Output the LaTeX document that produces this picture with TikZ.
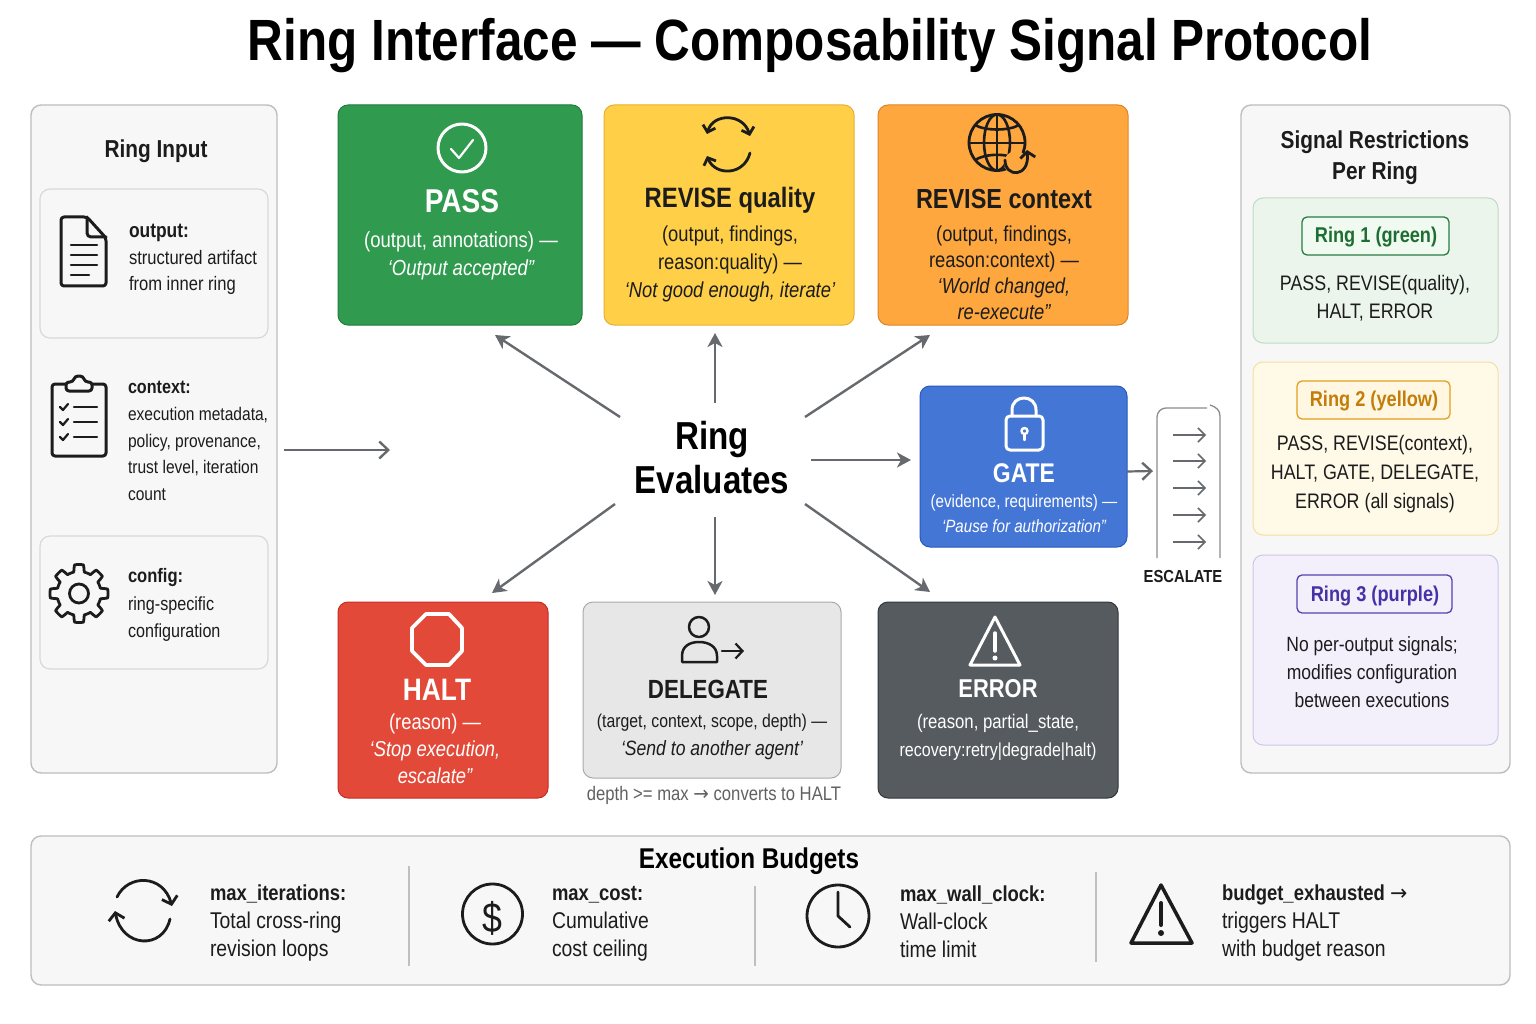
\documentclass[tikz,border=0pt]{standalone}
\usepackage{fontspec}
\setmainfont[FakeStretch=0.85]{Liberation Sans}
\newfontfamily\arrowfont[FakeStretch=0.95]{DejaVu Sans}
\usetikzlibrary{arrows.meta,calc}
\newcommand\sz[2]{\fontsize{#1}{#2}\selectfont}
\newcommand\textarrow{{\arrowfont →}}
\definecolor{ink}{HTML}{1C1C1C}
\definecolor{arrowc}{HTML}{666A6E}
\definecolor{panelf}{HTML}{F7F7F7}
\definecolor{paneld}{HTML}{BDBEBE}
\tikzset{
  x=1pt,y=-1pt,
  txt/.style={inner sep=0pt,outer sep=0pt,align=center,text=ink,yshift=-2pt},
  ltxt/.style={inner sep=0pt,outer sep=0pt,align=left,anchor=west,text=ink,yshift=-2pt},
  wtxt/.style={inner sep=0pt,outer sep=0pt,align=center,text=white,yshift=-2pt},
  bx/.style={rectangle,rounded corners=10pt,inner sep=0pt,outer sep=0pt,line width=1pt},
  panel/.style={bx,fill=panelf,draw=paneld,line width=1.4pt},
  sub/.style={bx,fill=panelf,draw=black!15,line width=1.2pt},
  arr/.style={draw=arrowc,line width=2.4pt,-{Straight Barb[length=9pt,width=17pt,line width=2.4pt]}},
  darr/.style={draw=arrowc,fill=arrowc,line width=2.4pt,-{Stealth[length=14pt,width=15pt,inset=4pt]}},
  sarr/.style={draw=arrowc,line width=1.6pt,-{Straight Barb[length=7pt,width=14pt,line width=1.6pt]}},
  icon/.style={draw=#1,line width=3pt,line cap=round,line join=round,fill=none},
  icon/.default=ink,
  ibarb/.style={-{Straight Barb[length=7pt,width=16pt,line width=2.8pt]}},
  sbarb/.style={{Straight Barb[length=6pt,width=13pt,line width=2.8pt]}-{Straight Barb[length=6pt,width=13pt,line width=2.8pt]}},
  sbarbe/.style={-{Straight Barb[length=6pt,width=13pt,line width=2.8pt]}},
  sep/.style={draw=black!25,line width=1.4pt}
}
\newcommand\bxnode[6]{\node[#6,minimum width={(#4-#2)*1pt},minimum height={(#5-#3)*1pt}] (#1) at ({(#2+#4)/2},{(#3+#5)/2}) {};}
\pgfmathdeclarefunction{rgear}{1}{\pgfmathparse{25.5+3.5*max(-1,min(1,3*cos(8*#1)))}}
\begin{document}
\begin{tikzpicture}
\useasboundingbox (0,0) rectangle (1536,1024);
\fill[white] (0,0) rectangle (1536,1024);
% title
\node[txt,text=black,font=\sz{58.2}{60}\bfseries] (title) at (810,44) {Ring Interface — Composability Signal Protocol};

% left panel
\bxnode{inp}{31}{105}{277}{773}{panel}
\node[txt,font=\sz{24.5}{30}\bfseries] (inpt) at (156,149) {Ring Input};
\bxnode{inA}{40}{189}{268}{338}{sub}
\bxnode{inC}{40}{536}{268}{669}{sub}
\node[ltxt,font=\sz{19.5}{26.5}] (inAt) at (129,257.5) {\sz{20.5}{26.5}\textbf{output:}\\\sz{19.5}{26.5}structured artifact\\from inner ring};
\node[ltxt,font=\sz{18.3}{26.7}] (inBt) at (128,439) {\sz{19}{26.7}\textbf{context:}\\\sz{18.3}{26.7}execution metadata,\\policy, provenance,\\trust level, iteration\\count};
\node[ltxt,font=\sz{19}{27.5}] (inCt) at (128,603) {\sz{19.5}{27.5}\textbf{config:}\\\sz{19}{27.5}ring-specific\\configuration};
% doc icon
\draw[icon,rounded corners=3pt] (61,217) -- (87,217) -- (106,238) -- (106,286) -- (61,286) -- cycle;
\draw[icon,rounded corners=4pt] (87,217) -- (87,237) -- (106,237);
\draw[icon,line width=2.6pt] (71,245)--(97,245) (71,255)--(97,255) (71,265)--(97,265) (71,275)--(89,275);
% clipboard icon
\draw[icon,rounded corners=3pt] (66,384) -- (52,384) -- (52,456) -- (106,456) -- (106,384) -- (92,384);
\draw[icon,rounded corners=3pt] (66,391) -- (66,382) -- (73,382) -- (75,376) -- (83,376) -- (85,382) -- (92,382) -- (92,391) -- cycle;
\foreach \yy in {407,422,437}{
  \draw[icon,line width=2.2pt] (60,\yy) -- (63,{\yy+3}) -- (68,{\yy-3});
  \draw[icon,line width=2.4pt] (74,\yy) -- (97,\yy);
}
% gear icon
\draw[icon,line width=2.8pt] plot[domain=0:360,samples=361] ({79+rgear(\x)*cos(\x)},{593.5+rgear(\x)*sin(\x)}) -- cycle;
\draw[icon,line width=2.8pt] (79,593.5) circle[radius=9.5];
% input arrow
\coordinate (inEnd) at (390,450);
\draw[arr] ([shift={(7,11)}]inp.east) -- (inEnd);

% top boxes
\bxnode{pass}{338}{105}{582}{325}{bx,fill={rgb,255:red,48;green,154;blue,79},draw={rgb,255:red,30;green,125;blue,60}}
\bxnode{revq}{604}{105}{854}{325}{bx,fill={rgb,255:red,255;green,207;blue,72},draw={rgb,255:red,228;green,178;blue,50}}
\bxnode{revc}{878}{105}{1128}{325}{bx,fill={rgb,255:red,253;green,167;blue,62},draw={rgb,255:red,222;green,132;blue,40}}
\bxnode{gate}{920}{386}{1127}{547}{bx,fill={rgb,255:red,68;green,118;blue,214},draw={rgb,255:red,40;green,90;blue,190}}
\bxnode{halt}{338}{602}{548}{798}{bx,fill={rgb,255:red,227;green,73;blue,56},draw={rgb,255:red,200;green,45;blue,35}}
\bxnode{dele}{583}{602}{841}{778}{bx,fill={rgb,255:red,231;green,231;blue,231},draw={rgb,255:red,170;green,170;blue,170}}
\bxnode{err}{878}{602}{1118}{798}{bx,fill={rgb,255:red,85;green,91;blue,95},draw={rgb,255:red,50;green,55;blue,58}}

% box texts
\node[wtxt,font=\sz{33}{36}\bfseries] (passh) at (462,199) {PASS};
\node[wtxt,font=\sz{21.8}{28}] (passb) at (461,254) {(output, annotations) —\\\itshape ‘Output accepted”};
\node[txt,font=\sz{28}{32}\bfseries] (revqh) at (730,198) {REVISE quality};
\node[txt,font=\sz{21.6}{28}] (revqb) at (730,262) {(output, findings,\\reason:quality) —\\\itshape ‘Not good enough, iterate’};
\node[txt,font=\sz{27.6}{32}\bfseries] (revch) at (1004,197) {REVISE context};
\node[txt,font=\sz{21.6}{26}] (revcb) at (1004,271) {(output, findings,\\reason:context) —\\\itshape ‘World changed,\\\itshape re-execute”};
\node[wtxt,font=\sz{27}{32}\bfseries] (gateh) at (1024,471) {GATE};
\node[wtxt,font=\sz{17.8}{25}] (gateb) at (1024,511.5) {(evidence, requirements) —\\\itshape ‘Pause for authorization”};
\node[wtxt,font=\sz{31}{34}\bfseries] (halth) at (437,688) {HALT};
\node[wtxt,font=\sz{21.6}{27}] (haltb) at (435,747) {(reason) —\\\itshape ‘Stop execution,\\\itshape escalate”};
\node[txt,font=\sz{26.3}{32}\bfseries] (deleh) at (708,687) {DELEGATE};
\node[txt,font=\sz{18.6}{28}] (deleb) at (712,735) {(target, context, scope, depth) —\\\sz{20.7}{28}\itshape ‘Send to another agent’};
\node[wtxt,font=\sz{25.8}{32}\bfseries] (errh) at (998,687) {ERROR};
\node[wtxt,font=\sz{19.7}{28}] (errb) at (998,735) {(reason, partial\_state,\\\sz{18.9}{28}recovery:retry|degrade|halt)};
\node[txt,text=black!62,font=\sz{19.6}{22}] (delec) at (714,793) {depth >= max \textarrow{} converts to HALT};

% centre
\node[inner sep=0pt,outer sep=0pt,align=center,font=\sz{39}{44}\bfseries,text=black,minimum width=196pt,minimum height=114pt] (eval) at (712,458) {Ring\\Evaluates};
\draw[darr] ([shift={(6,16)}]eval.north west) -- ([shift={(35,10)}]pass.south);
\draw[darr] ([shift={(3,2)}]eval.north) -- ([shift={(-14,8)}]revq.south);
\draw[darr] ([shift={(-5,16)}]eval.north east) -- ([shift={(-198,10)}]revc.south east);
\draw[darr] ([shift={(1,2)}]eval.east) -- ($(eval.east -| gate.west)+(-9,2)$);
\draw[darr] ([shift={(1,-11)}]eval.south west) -- ([shift={(-56,-9)}]halt.north east);
\draw[darr] ([shift={(3,2)}]eval.south) -- ([shift={(3,-7)}]dele.north);
\draw[darr] ([shift={(-5,-11)}]eval.south east) -- ([shift={(52,-10)}]err.north west);

% escalate
\node[inner sep=0pt,outer sep=0pt,minimum width=68pt,minimum height=150pt] (esc) at (1187,483) {};
\draw[arr,line width=2.2pt] ([shift={(0,5)}]gate.east) -- ([shift={(0,-12)}]esc.west);
\draw[draw=black!45,line width=1.3pt,rounded corners=9pt] ([xshift=4pt]esc.south west) -- (1157,408) -- (1207,408);
\draw[draw=black!45,line width=1.3pt] (1210,405) .. controls (1216,407) and (1220,410) .. (1220,416) -- (1220,558);
\foreach \i/\yy in {a/435,b/461,c/488,d/515,e/542}{
  \coordinate (e\i1) at (1173,\yy); \coordinate (e\i2) at (1206,\yy);
  \draw[sarr] (e\i1) -- (e\i2);
}
\node[txt,font=\sz{17.4}{22}\bfseries] (esct) at (1183,575) {ESCALATE};

% icons in coloured boxes
\draw[icon=white] (462,148) circle[radius=24];
\draw[icon=white,line width=2.2pt] (451,149) -- (459,158) -- (473,140);
\draw[icon,line width=2.8pt,sbarb] (707,134) .. controls (713,113) and (743,113) .. (750,136);
\draw[icon,line width=2.8pt,sbarbe] (750,153) .. controls (744,176) and (715,176) .. (707,156);
% globe
\draw[icon,line width=2.8pt] (997,142.5) circle[radius=28];
\draw[icon,line width=2.6pt] (997,115) -- (997,170);
\draw[icon,line width=2.6pt] (997,142.5) ellipse[x radius=13,y radius=28];
\draw[icon,line width=2.6pt] (969,143) -- (1025,143);
\draw[icon,line width=2.6pt] (975,125) .. controls (985,131) and (1009,131) .. (1019,125);
\draw[icon,line width=2.6pt] (975,160) .. controls (985,154) and (1000,154) .. (1008,156);
\fill[fill={rgb,255:red,253;green,167;blue,62}] (1016,163) circle[radius=12];
\draw[icon,line width=2.8pt,-{Straight Barb[length=6pt,width=15pt,line width=2.8pt]}] (1005,160) .. controls (1005,178) and (1030,178) .. (1027,150);
% lock
\draw[icon=white] (1012,416) -- (1012,410) .. controls (1012,394) and (1036,394) .. (1036,410) -- (1036,416);
\draw[icon=white,rounded corners=4pt] (1006,416) rectangle (1043,450);
\draw[icon=white,line width=2.4pt] (1024.5,431) circle[radius=3];
\draw[icon=white,line width=2.4pt] (1024.5,434) -- (1024.5,440);
% octagon
\draw[icon=white,line width=3.8pt] (426,614) -- (449,614) -- (462,628) -- (462,651) -- (449,665) -- (426,665) -- (412,651) -- (412,628) -- cycle;
% person
\draw[icon,line width=2.5pt] (699,627) circle[radius=10];
\draw[icon,line width=2.5pt] (682,662) -- (682,656) .. controls (682,646) and (690,642) .. (699,642) .. controls (708,642) and (717,646) .. (717,656) -- (717,662) -- cycle;
\draw[icon,line width=2.2pt,-{Straight Barb[length=7pt,width=15pt,line width=2.2pt]}] (722,651) -- (744,651);
% warning
\draw[icon=white,line width=3pt] (995,617) -- (970,665) -- (1020,665) -- cycle;
\draw[icon=white,line width=3.5pt] (995,633) -- (995,651);
\fill[white] (995,658) circle[radius=2.5];

% right panel
\bxnode{sig}{1241}{105}{1510}{773}{panel}
\node[txt,font=\sz{24.5}{31}\bfseries] (sigt) at (1375,155.5) {Signal Restrictions\\Per Ring};
\bxnode{r1}{1253}{198}{1498}{343}{bx,fill={rgb,255:red,236;green,245;blue,236},draw={rgb,255:red,190;green,220;blue,195}}
\bxnode{r2}{1253}{362}{1498}{535}{bx,fill={rgb,255:red,255;green,249;blue,232},draw={rgb,255:red,245;green,222;blue,160}}
\bxnode{r3}{1253}{555}{1498}{745}{bx,fill={rgb,255:red,243;green,240;blue,252},draw={rgb,255:red,205;green,198;blue,232}}
\bxnode{p1}{1302}{217}{1449}{255}{bx,rounded corners=5pt,fill={rgb,255:red,240;green,250;blue,240},draw={rgb,255:red,40;green,125;blue,70},line width=1.3pt}
\bxnode{p2}{1297}{381}{1450}{419}{bx,rounded corners=5pt,fill={rgb,255:red,255;green,247;blue,225},draw={rgb,255:red,225;green,160;blue,30},line width=1.3pt}
\bxnode{p3}{1297}{575}{1452}{613}{bx,rounded corners=5pt,fill={rgb,255:red,243;green,240;blue,252},draw={rgb,255:red,85;green,65;blue,175},line width=1.3pt}
\node[txt,text={rgb,255:red,30;green,110;blue,50},font=\sz{21.4}{26}\bfseries] (p1t) at (1376,235.5) {Ring 1 (green)};
\node[txt,text={rgb,255:red,195;green,125;blue,10},font=\sz{21.4}{26}\bfseries] (p2t) at (1374,399.5) {Ring 2 (yellow)};
\node[txt,text={rgb,255:red,70;green,50;blue,165},font=\sz{21.4}{26}\bfseries] (p3t) at (1375,594) {Ring 3 (purple)};
\node[txt,font=\sz{21}{28}] (r1t) at (1375,296) {PASS, REVISE(quality),\\HALT, ERROR};
\node[txt,font=\sz{21}{29}] (r2t) at (1375,472) {PASS, REVISE(context),\\HALT, GATE, DELEGATE,\\ERROR (all signals)};
\node[txt,font=\sz{20.6}{28}] (r3t) at (1372,670) {No per-output signals;\\modifies configuration\\between executions};

% budgets
\bxnode{bud}{31}{836}{1510}{985}{panel}
\node[txt,text=black,font=\sz{28.6}{30}\bfseries] (budt) at (749,859) {Execution Budgets};
\draw[sep] (409,866) -- (409,966);
\draw[sep] (755,886) -- (755,966);
\draw[sep] (1096,872) -- (1096,962);
\node[ltxt,font=\sz{22.8}{28}] (b1) at (210,921) {\sz{21.7}{28}\textbf{max\_iterations:}\\\sz{22.8}{28}Total cross-ring\\revision loops};
\node[ltxt,font=\sz{22.8}{28}] (b2) at (552,922) {\sz{21.7}{28}\textbf{max\_cost:}\\\sz{22.8}{28}Cumulative\\cost ceiling};
\node[ltxt,font=\sz{22.8}{28}] (b3) at (900,920) {\sz{21.7}{28}\textbf{max\_wall\_clock:}\\\sz{22.8}{28}Wall-clock\\time limit};
\node[ltxt,font=\sz{22.8}{28}] (b4) at (1222,921) {\sz{21.7}{28}\textbf{budget\_exhausted} \textarrow\\\sz{22.8}{28}triggers HALT\\with budget reason};
% budget icons
\draw[icon,line width=2.8pt,ibarb] (117,897) .. controls (128,874) and (163,874) .. (172,906);
\draw[icon,line width=2.8pt,ibarb] (170,919) .. controls (163,950) and (122,948) .. (115,911);
\draw[icon,line width=2.8pt] (492.5,914) circle[radius=30];
\node[txt,font=\sz{42}{44}] (dol) at (492.5,916) {\$};
\draw[icon,line width=2.8pt] (838,916) circle[radius=31];
\draw[icon,line width=2.8pt] (838,892) -- (838,916) -- (850,927);
\draw[icon,line width=3.5pt] (1161,885) -- (1131,943) -- (1192,943) -- cycle;
\draw[icon,line width=4pt] (1161,903) -- (1161,925);
\fill[ink] (1161,933) circle[radius=3];
\end{tikzpicture}
\end{document}
